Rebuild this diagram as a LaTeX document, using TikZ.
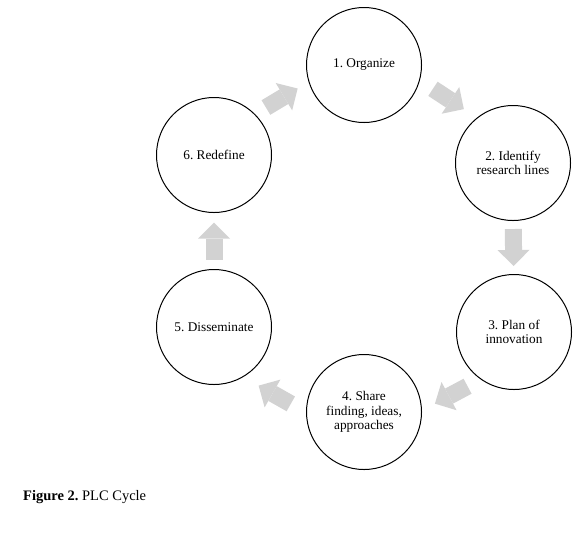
\documentclass[tikz,border=0pt]{standalone}
\usepackage{fontspec}
\setmainfont{Liberation Serif}
\usetikzlibrary{calc,arrows.meta}
\definecolor{flowgray}{RGB}{210,210,210}
\frenchspacing
% block arrow between two stages, pushed out by #3
\newcommand{\flowarrow}[3]{\draw[flow] ($(#1)!.5!(#2)!18.5pt!(#1)!#3!90:(#2)$) -- ($(#1)!.5!(#2)!18.5pt!(#2)!#3!-90:(#1)$);}

\begin{document}
\begin{tikzpicture}[x=1pt,y=1pt,font=\fontsize{13.3}{14.5}\selectfont, line join=round,
		stage/.style={circle,draw,line width=1pt,minimum size=115pt,inner sep=0pt,align=center},
		flow/.style={flowgray,line width=17pt,-{Triangle[length=16pt,width=32pt,line width=0pt]}}]
				\useasboundingbox (0,0) rectangle (580,-539);
				%\draw[thin,color=gray!50] (0,0) grid[step=50] (580,-539);
				\node[stage] (org) at (364,-65) {1. Organize};
				\node[stage] (idf) at (513,-163) {2. Identify\\research lines};
				\node[stage] (plan) at (514,-332) {3. Plan of\\innovation};
				\node[stage] (share) at (364,-412) {4. Share\\finding, ideas,\\approaches};
				\node[stage] (diss) at (214,-327) {5. Disseminate};
				\node[stage] (redef) at (214,-155) {6. Redefine};
				\flowarrow{redef}{org}{14pt}
				\flowarrow{org}{idf}{18pt}
				\flowarrow{idf}{plan}{0pt}
				\flowarrow{plan}{share}{26pt}
				\flowarrow{share}{diss}{29pt}
				\flowarrow{diss}{redef}{0pt}
				\node[anchor=base west,inner sep=0pt] (cap) at (23,-500) {\fontsize{14.5}{16}\selectfont\textbf{Figure 2.} PLC Cycle};
		\end{tikzpicture}
\end{document}
